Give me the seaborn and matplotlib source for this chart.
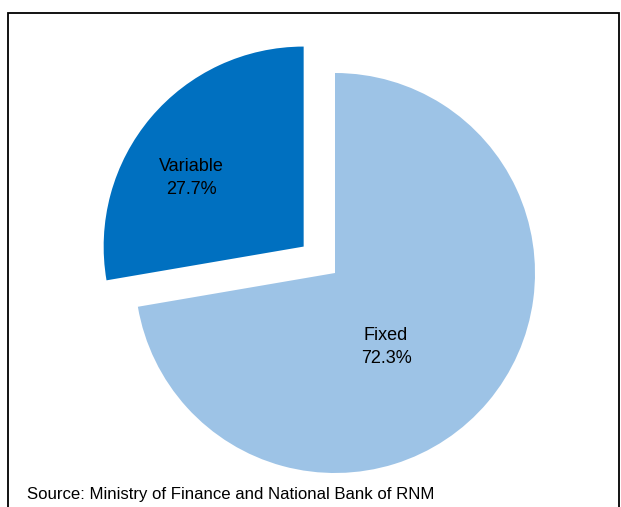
import matplotlib
matplotlib.use("Agg")
import matplotlib.pyplot as plt
from matplotlib.patches import Rectangle
import seaborn as sns

# Share of debt by interest-rate type
categories = ["Fixed", "Variable"]
shares = [72.3, 27.7]
source_note = "Source: Ministry of Finance and National Bank of RNM"

sns.set_theme(style="white")
plt.rcParams["font.family"] = ["Liberation Sans Narrow", "Liberation Sans", "DejaVu Sans"]

colors = ["#9DC3E6", "#0070C0"]

W, H = 621, 507
fig = plt.figure(figsize=(W / 100, H / 100), dpi=100)

# pie geometry in pixels
cx, cy, r = 335, 273, 200
lim = 1.4
size = 2 * lim * r
ax = fig.add_axes([(cx - size / 2) / W, ((H - cy) - size / 2) / H, size / W, size / H])

ax.pie(shares, colors=colors, startangle=90, counterclock=False,
       explode=[0.0, 0.205], radius=1.0,
       wedgeprops=dict(linewidth=0))
ax.set_xlim(-lim, lim)
ax.set_ylim(-lim, lim)
ax.set_aspect("equal")
ax.axis("off")

label_pos = {"Fixed": (0.255, -0.37), "Variable": (-0.72, 0.475)}
for cat, val in zip(categories, shares):
    x, y = label_pos[cat]
    ax.text(x, y, f"{cat}\n{val:.1f}%", ha="center", va="center",
            multialignment="center", fontsize=13, color="black",
            linespacing=1.5)

# frame around the chart
frame = Rectangle((8 / W, -0.05), (619 - 8) / W, 1.05 - 13 / H,
                  transform=fig.transFigure, fill=False,
                  edgecolor="black", linewidth=1.3)
fig.add_artist(frame)

fig.text(27 / W, 1 - 495 / H, source_note, ha="left", va="center",
         fontsize=12.1, color="black")

fig.savefig("out.png", dpi=100)
